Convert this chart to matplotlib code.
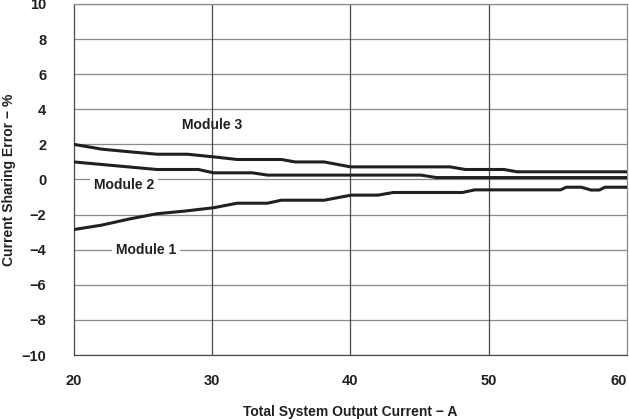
import matplotlib.pyplot as plt

plt.rcParams['font.family'] = ['Liberation Sans', 'DejaVu Sans']
plt.rcParams['font.weight'] = 'bold'

# Module 3
m3_x = [20, 22, 24, 26, 28.2, 30.1, 31.8, 35, 36, 38.1, 40, 47.2, 48.3, 51.1, 52.05, 60]
m3_y = [2.0, 1.73, 1.58, 1.44, 1.44, 1.29, 1.14, 1.14, 1.0, 1.0, 0.72, 0.72, 0.57, 0.57, 0.44, 0.44]

# Module 2
m2_x = [20, 26, 29.0, 30.1, 32.9, 34.0, 45.1, 46.2, 60]
m2_y = [1.0, 0.57, 0.57, 0.38, 0.38, 0.25, 0.25, 0.11, 0.11]

# Module 1
m1_x = [20, 22, 24, 26, 28, 30.1, 31.8, 34, 35, 38.1, 40.06, 42.0, 43.1, 48.1, 49.0,
        55.2, 55.6, 56.7, 57.4, 58.0, 58.4, 60]
m1_y = [-2.85, -2.6, -2.25, -1.95, -1.8, -1.61, -1.35, -1.35, -1.18, -1.18, -0.89, -0.89,
        -0.74, -0.74, -0.59, -0.59, -0.44, -0.44, -0.6, -0.6, -0.44, -0.44]

x_ticks = [20, 30, 40, 50, 60]
y_ticks = list(range(-10, 11, 2))

fig = plt.figure(figsize=(6.29, 4.19), dpi=100)
ax = fig.add_axes([0.1176, 0.1527, 0.8792, 0.8378])

for y in y_ticks:
    ax.axhline(y, color='#8a8a8a', lw=0.9, zorder=1)
for x in x_ticks[1:-1]:
    ax.axvline(x, color='#4a4a4a', lw=0.9, zorder=1)

line_kw = dict(color='#231f20', lw=2.2, solid_joinstyle='round', zorder=3)
ax.plot(m3_x, m3_y, **line_kw)
ax.plot(m2_x, m2_y, **line_kw)
ax.plot(m1_x, m1_y, **line_kw)

lbl_kw = dict(fontsize=10, fontweight='bold', color='#231f20', ha='center', va='center', zorder=4)
ax.text(30, 3.1, 'Module 3', **lbl_kw)
ax.text(23.6, -0.3, 'Module 2', bbox=dict(facecolor='white', edgecolor='none', pad=3), **lbl_kw)
ax.text(25.2, -4.0, 'Module 1', bbox=dict(facecolor='white', edgecolor='none', pad=3), **lbl_kw)

ax.set_xlim(20, 60)
ax.set_ylim(-10, 10)
ax.set_xticks(x_ticks)
ax.set_yticks(y_ticks)
ax.set_yticklabels([str(v).replace('-', '\u2212') for v in y_ticks])
ax.tick_params(axis='both', length=0, labelsize=10.5, colors='#231f20')
ax.tick_params(axis='x', pad=14)
ax.tick_params(axis='y', pad=20)
for lbl in ax.get_xticklabels() + ax.get_yticklabels():
    lbl.set_fontweight('bold')
ax.get_xticklabels()[-1].set_horizontalalignment('right')

for side in ['left', 'bottom']:
    ax.spines[side].set_color('#4a4a4a')
    ax.spines[side].set_linewidth(0.9)
for side in ['top', 'right']:
    ax.spines[side].set_color('#8a8a8a')
    ax.spines[side].set_linewidth(0.9)

ax.set_xlabel('Total System Output Current \u2212 A', fontsize=10, fontweight='bold',
              color='#231f20', labelpad=12)
ax.set_ylabel('Current Sharing Error \u2212 %', fontsize=10, fontweight='bold',
              color='#231f20', labelpad=4)

fig.savefig('out.png', dpi=100)
